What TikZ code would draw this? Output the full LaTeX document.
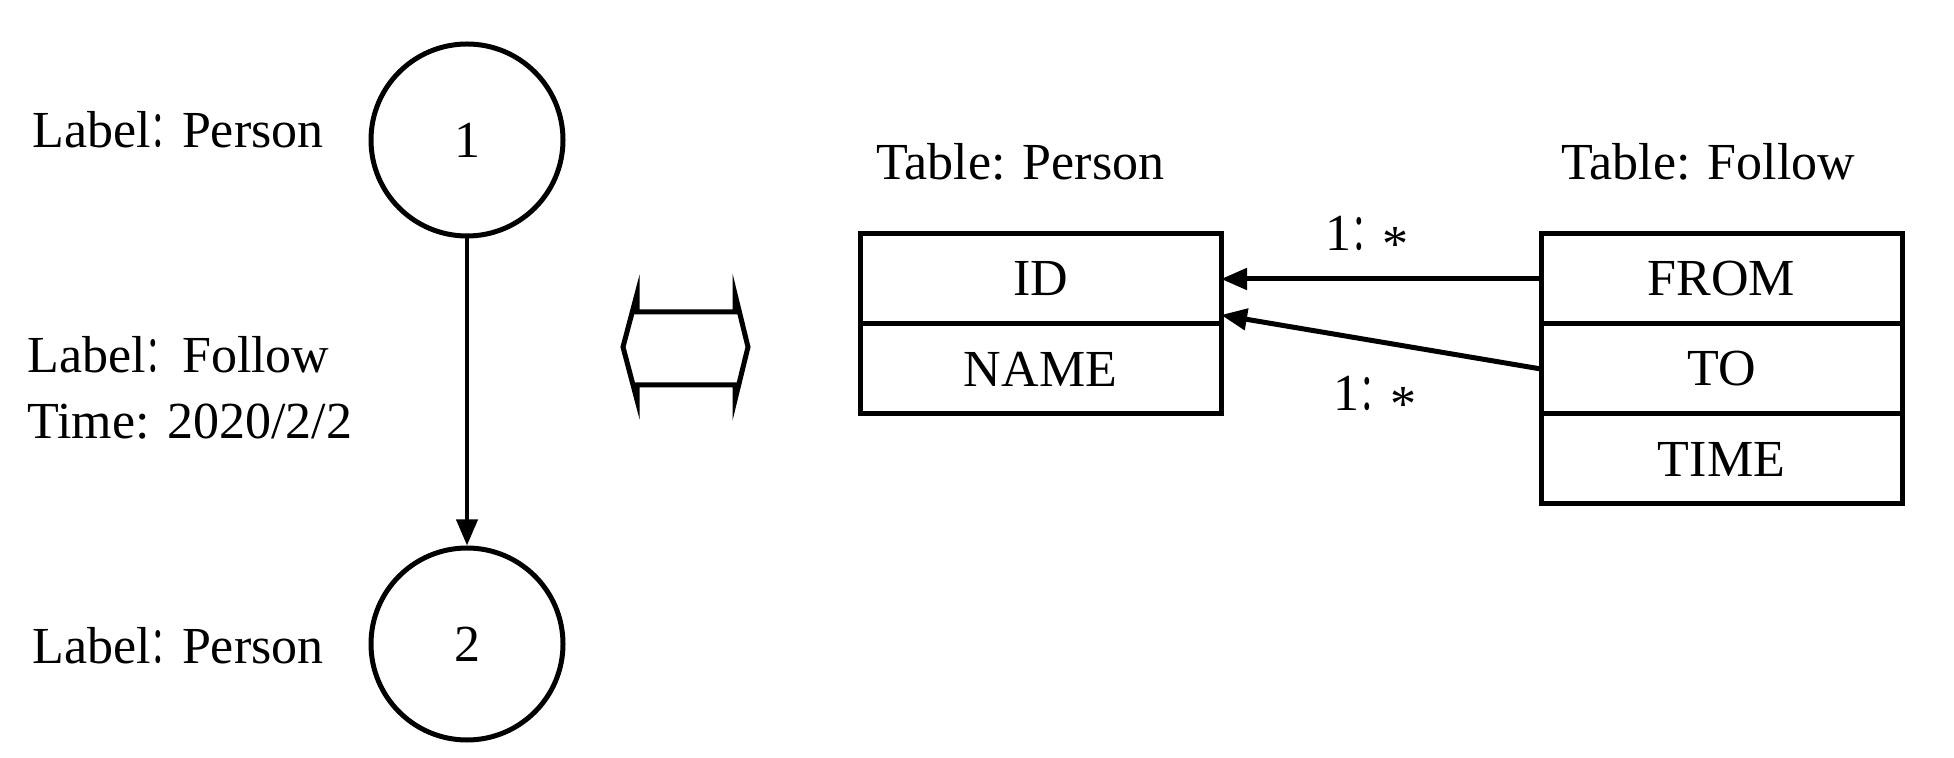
\documentclass[tikz,border=0pt]{standalone}
\usepackage{fontspec}
\setmainfont{Liberation Serif}
\newfontfamily\cjk[FakeStretch=0.6]{Noto Sans CJK SC}
\usetikzlibrary{arrows.meta,positioning}
\newcommand{\fcolon}{{\cjk ：}}
\newcommand{\many}{\raisebox{-0.22em}{*}}

\begin{document}
\begin{tikzpicture}[x=0.5pt,y=-0.5pt,
  font=\fontsize{26}{33}\selectfont,
  vertex/.style={circle,draw,line width=2.5pt,minimum size=96pt,inner sep=0pt},
  field/.style={draw,line width=2.5pt,minimum width=180.5pt,minimum height=45pt,inner sep=0pt,outer sep=0pt},
  link/.style={line width=2pt,-{Triangle[length=13pt,width=10.5pt]}}]
\useasboundingbox (0,0) rectangle (1954,758);

% graph view
\node[vertex] (v1) at (467,140) {1};
\node[vertex] (v2) at (467,644) {2};
\node (lab1) at (178,130) {Label\fcolon Person};
\node (lab2) at (178,646) {Label\fcolon Person};
\node[anchor=west,align=left,inner sep=0pt] (edgelab) at (27,388) {Label\fcolon\kern0.1em Follow\\Time: 2020/2/2};
\draw[link] (v1) -- (v2);

% equivalence
\draw[line width=2.5pt] (623,347) -- (637,294) -- (637,312) -- (735,312) -- (735,294)
  -- (748,347) -- (735,400) -- (735,385) -- (637,385) -- (637,400) -- cycle;

% table view
\node[field] (id) at (1040.5,279) {ID};
\node[field,below=0pt of id] (name) {NAME};
\node[anchor=west,inner sep=0pt] (tperson) at (876,162) {Table: Person};

\node[field] (from) at (1721.5,279) {FROM};
\node[field,below=0pt of from] (to) {TO};
\node[field,below=0pt of to] (time) {TIME};
\node[anchor=west,inner sep=0pt] (tfollow) at (1561,162) {Table: Follow};

\draw[link,line width=2.5pt] (from.west) -- (id.east);
\draw[link,line width=2.5pt] (to.west) -- ([yshift=4.5pt]id.south east);
\node (card1) at (1367,239) {1\fcolon\many};
\node (card2) at (1375,399) {1\fcolon\many};
\end{tikzpicture}
\end{document}
